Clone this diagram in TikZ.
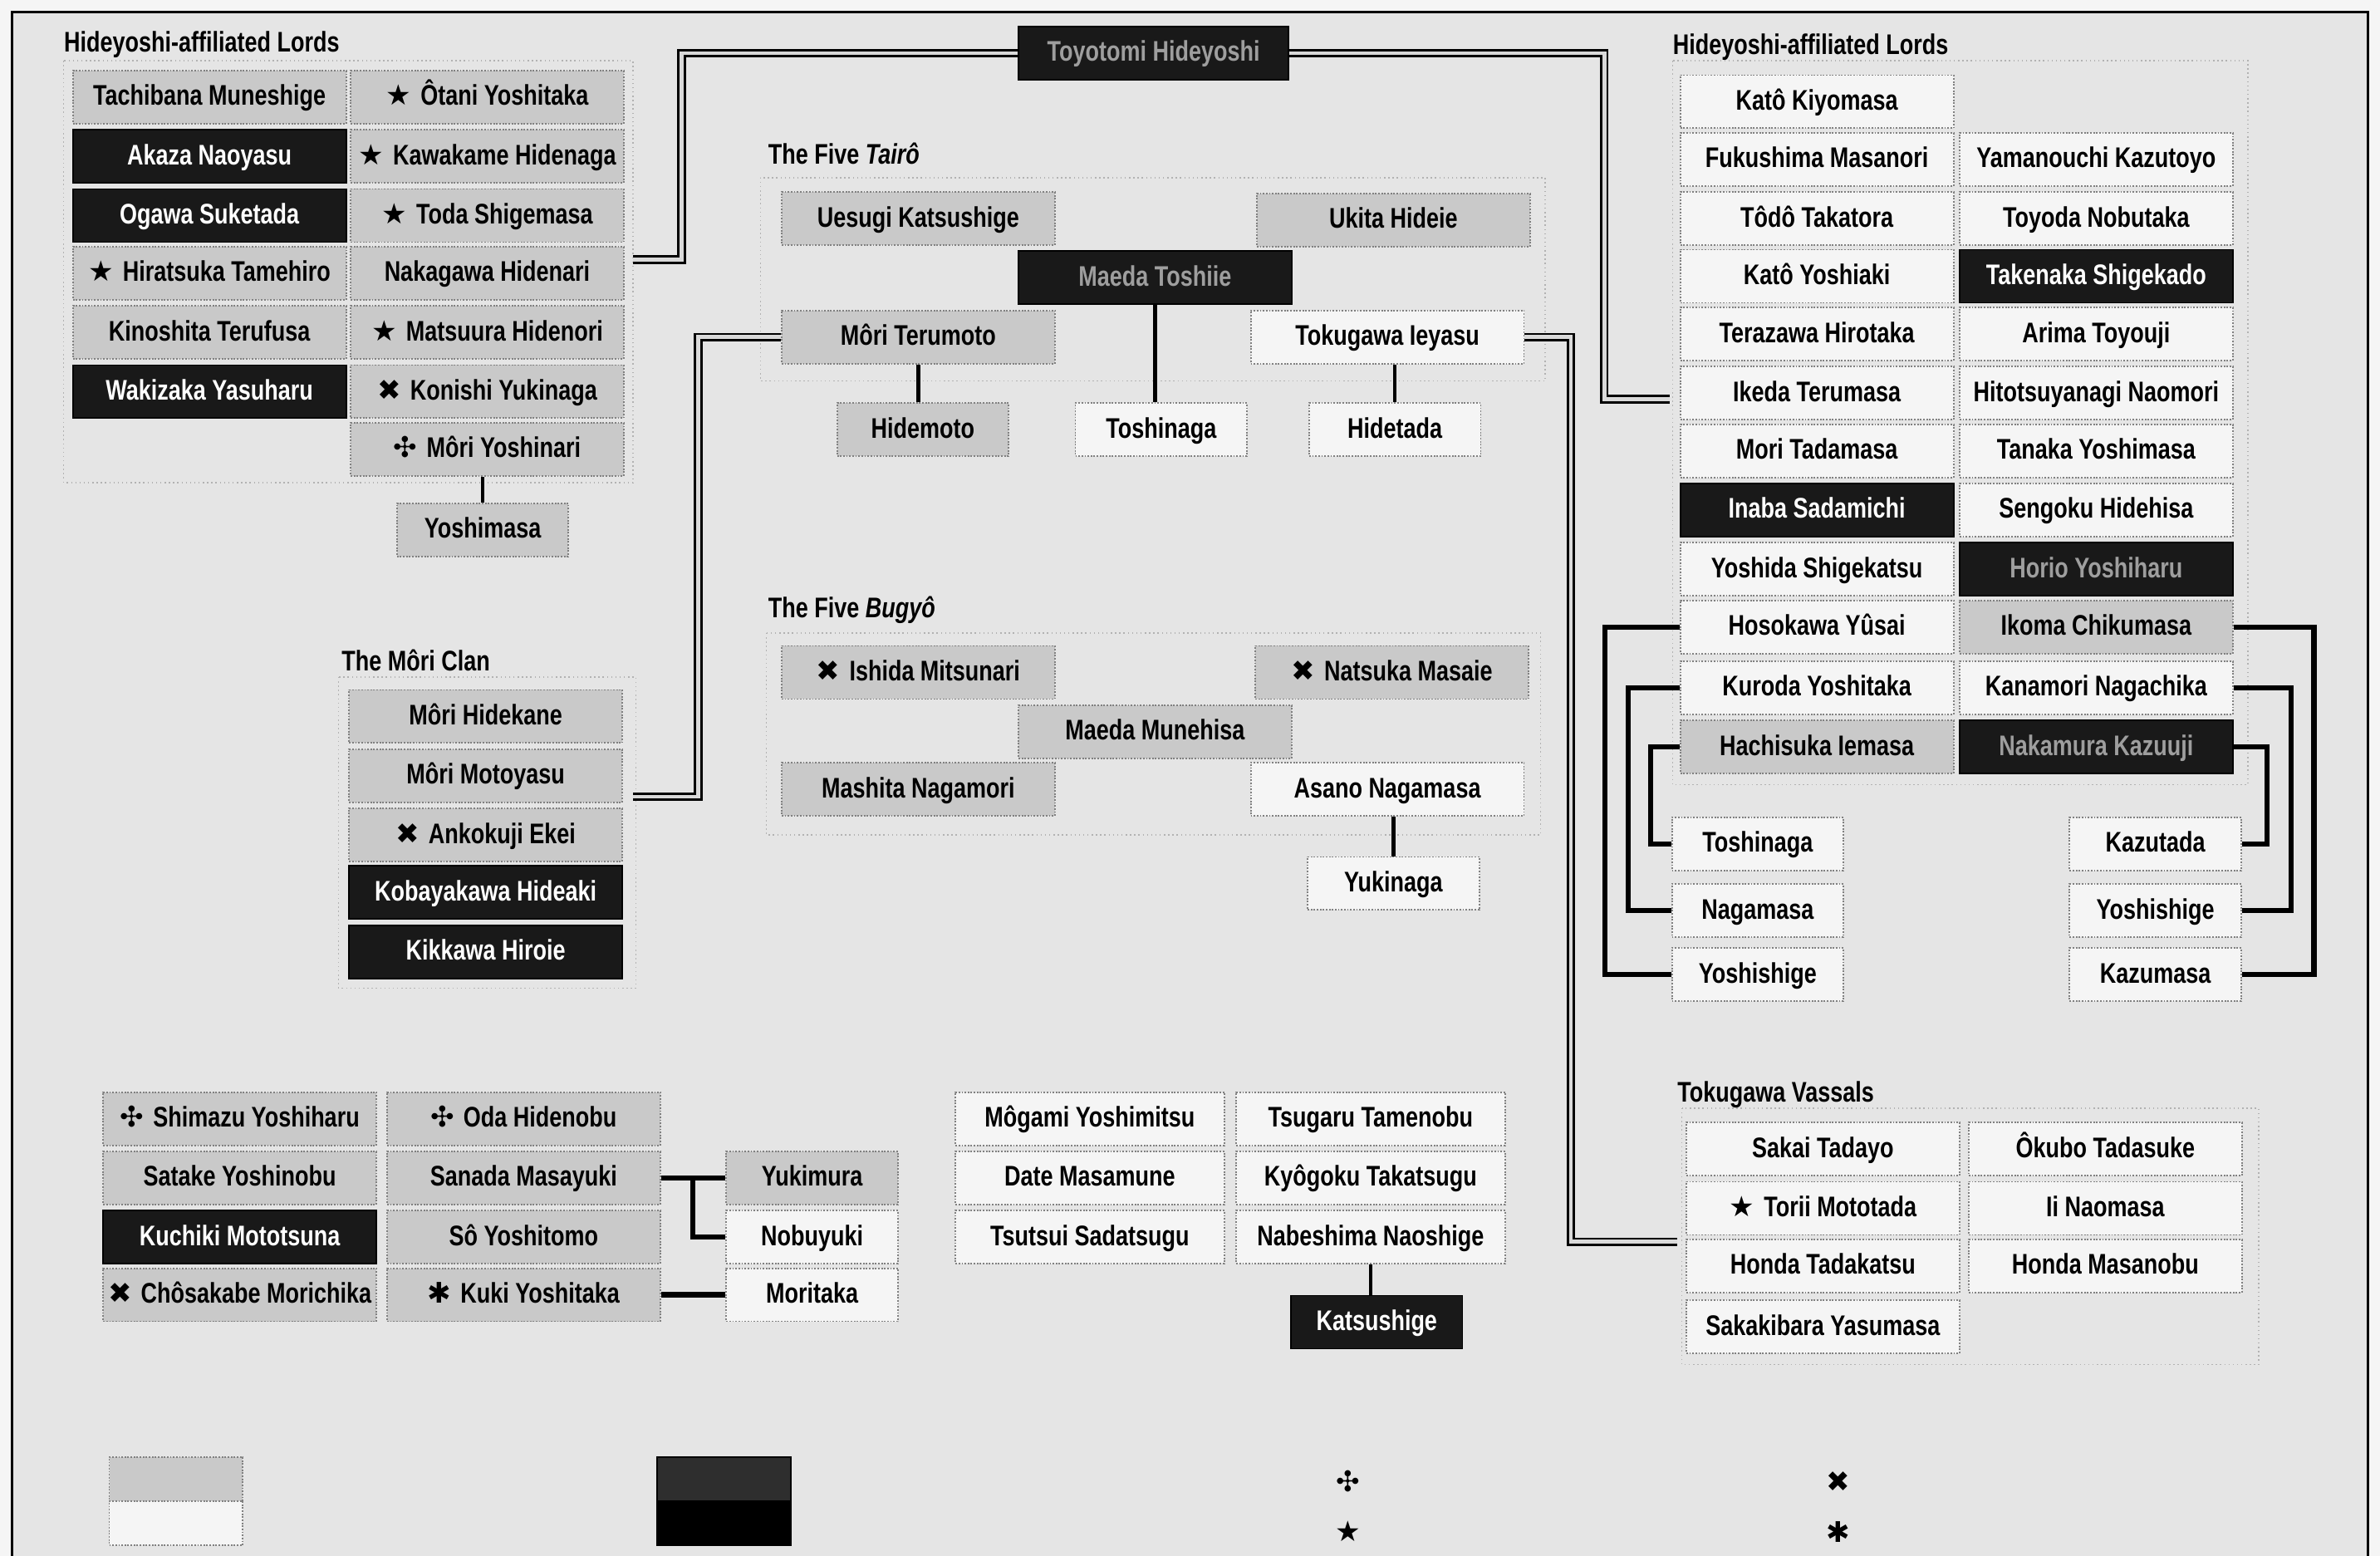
\documentclass[tikz,border=0pt]{standalone}
\usepackage{fontspec}
\setmainfont{Liberation Sans}[FakeStretch=0.85]
\newfontfamily\namefont{Liberation Sans}[FakeStretch=0.79]
\newfontfamily\symfont{DejaVu Sans}
\newcommand{\kamon}[1]{{\symfont\mdseries #1}\hspace{6pt}}

\begin{document}
\begin{tikzpicture}[
  x=1pt, y=-1pt,
  every node/.style={font=\namefont\bfseries\fontsize{18.7}{20}\selectfont},
  lord/.style={draw=black!50, densely dotted, line width=1pt, minimum width=180pt,
    minimum height=35pt, inner sep=0pt, text height=13pt, text depth=2pt},
  grey/.style={lord, fill=black!21},
  pale/.style={lord, fill=black!4},
  dark/.style={lord, draw=black, solid, fill=black!90, text=white},
  dim/.style={dark, text=black!38},
  narrow/.style={minimum width=113pt},
  title/.style={anchor=base west, inner sep=0pt},
  frame/.style={draw=black!30, dotted, line width=0.8pt},
  dbl/.style={line width=1.6pt, double=black!15, double distance=2.4pt},
  link/.style={line width=3.4pt},
  stem/.style={line width=2.4pt}
  ]
	\useasboundingbox (0,0) rectangle (1568,1025);
	\fill[black!4] (0,0) rectangle (1568,1025);
	\fill[black!10] (8,8) rectangle (1560,1025);
	\draw[line width=1.3pt] (8,1025) -- (8,8) -- (1560,8) -- (1560,1025);

	\draw[frame] (42,40) rectangle (417,318);
	\draw[frame] (1102,40) rectangle (1481,517);
	\draw[frame] (501,117) rectangle (1018,251);
	\draw[frame] (505,417) rectangle (1015,550);
	\draw[frame] (223,446) rectangle (419,651);
	\draw[frame] (1108,730) rectangle (1488,899);

	\coordinate (lordsL) at (417,171);
	\coordinate (bendA) at (449,171);
	\coordinate (lordsR) at (1100,263);
	\coordinate (bendB) at (1057,263);
	\coordinate (moriclan) at (417,525);
	\coordinate (bendC) at (460,525);
	\coordinate (vassals) at (1105,818);
	\coordinate (bendD) at (1035,818);

	\node[title] (lordsLtitle) at (42,34) {Hideyoshi-affiliated Lords};
	\node[title] (lordsRtitle) at (1102,36) {Hideyoshi-affiliated Lords};
	\node[title] (tairotitle) at (506,108) {The Five \textit{Tairô}};
	\node[title] (bugyotitle) at (506,407) {The Five \textit{Bugyô}};
	\node[title] (morititle) at (225,442) {The Môri Clan};
	\node[title] (vassaltitle) at (1105,726) {Tokugawa Vassals};

	\node[grey] (tachibana) at (138,64) {Tachibana Muneshige};
	\node[dark] (akaza) at (138,103) {Akaza Naoyasu};
	\node[dark] (ogawa) at (138,142) {Ogawa Suketada};
	\node[grey] (hiratsuka) at (138,180) {\kamon{★}Hiratsuka Tamehiro};
	\node[grey] (kinoshita) at (138,219) {Kinoshita Terufusa};
	\node[dark] (wakizaka) at (138,258) {Wakizaka Yasuharu};
	\node[grey] (otani) at (321,64) {\kamon{★}Ôtani Yoshitaka};
	\node[grey] (kawakame) at (321,103) {\kamon{★}Kawakame Hidenaga};
	\node[grey] (toda) at (321,142) {\kamon{★}Toda Shigemasa};
	\node[grey] (nakagawa) at (321,180) {Nakagawa Hidenari};
	\node[grey] (matsuura) at (321,219) {\kamon{★}Matsuura Hidenori};
	\node[grey] (konishi) at (321,258) {\kamon{✖}Konishi Yukinaga};
	\node[grey] (yoshinari) at (321,296) {\kamon{✣}Môri Yoshinari};
	\node[grey, narrow] (yoshimasa) at (318,349) {Yoshimasa};

	\node[dim, minimum width=178pt] (toyotomi) at (760,35) {Toyotomi Hideyoshi};
	\node[grey] (uesugi) at (605,144) {Uesugi Katsushige};
	\node[grey] (ukita) at (918,145) {Ukita Hideie};
	\node[dim] (toshiie) at (761,183) {Maeda Toshiie};
	\node[grey] (terumoto) at (605,222) {Môri Terumoto};
	\node[pale] (ieyasu) at (914,222) {Tokugawa Ieyasu};
	\node[grey, narrow] (hidemoto) at (608,283) {Hidemoto};
	\node[pale, narrow] (toshinagaT) at (765,283) {Toshinaga};
	\node[pale, narrow] (hidetada) at (919,283) {Hidetada};

	\node[grey] (ishida) at (605,443) {\kamon{✖}Ishida Mitsunari};
	\node[grey] (natsuka) at (917,443) {\kamon{✖}Natsuka Masaie};
	\node[grey] (munehisa) at (761,482) {Maeda Munehisa};
	\node[grey] (mashita) at (605,520) {Mashita Nagamori};
	\node[pale] (asano) at (914,520) {Asano Nagamasa};
	\node[pale, narrow] (yukinaga) at (918,582) {Yukinaga};

	\node[grey] (hidekane) at (320,472) {Môri Hidekane};
	\node[grey] (motoyasu) at (320,511) {Môri Motoyasu};
	\node[grey] (ankokuji) at (320,550) {\kamon{✖}Ankokuji Ekei};
	\node[dark] (kobayakawa) at (320,588) {Kobayakawa Hideaki};
	\node[dark] (kikkawa) at (320,627) {Kikkawa Hiroie};

	\node[pale] (kiyomasa) at (1197,67) {Katô Kiyomasa};
	\node[pale] (fukushima) at (1197,105) {Fukushima Masanori};
	\node[pale] (todo) at (1197,144) {Tôdô Takatora};
	\node[pale] (yoshiaki) at (1197,182) {Katô Yoshiaki};
	\node[pale] (terazawa) at (1197,220) {Terazawa Hirotaka};
	\node[pale] (ikeda) at (1197,259) {Ikeda Terumasa};
	\node[pale] (tadamasa) at (1197,297) {Mori Tadamasa};
	\node[dark] (inaba) at (1197,336) {Inaba Sadamichi};
	\node[pale] (yoshida) at (1197,375) {Yoshida Shigekatsu};
	\node[pale] (hosokawa) at (1197,413) {Hosokawa Yûsai};
	\node[pale] (kuroda) at (1197,453) {Kuroda Yoshitaka};
	\node[grey] (hachisuka) at (1197,492) {Hachisuka Iemasa};
	\node[pale] (yamanouchi) at (1381,105) {Yamanouchi Kazutoyo};
	\node[pale] (toyoda) at (1381,144) {Toyoda Nobutaka};
	\node[dark] (takenaka) at (1381,182) {Takenaka Shigekado};
	\node[pale] (arima) at (1381,220) {Arima Toyouji};
	\node[pale] (hitotsuyanagi) at (1381,259) {Hitotsuyanagi Naomori};
	\node[pale] (tanaka) at (1381,297) {Tanaka Yoshimasa};
	\node[pale] (sengoku) at (1381,336) {Sengoku Hidehisa};
	\node[dim] (horio) at (1381,375) {Horio Yoshiharu};
	\node[grey] (ikoma) at (1381,413) {Ikoma Chikumasa};
	\node[pale] (kanamori) at (1381,453) {Kanamori Nagachika};
	\node[dim] (nakamura) at (1381,492) {Nakamura Kazuuji};

	\node[pale, narrow] (toshinagaR) at (1158,556) {Toshinaga};
	\node[pale, narrow] (nagamasa) at (1158,600) {Nagamasa};
	\node[pale, narrow] (yoshishigeL) at (1158,642) {Yoshishige};
	\node[pale, narrow] (kazutada) at (1420,556) {Kazutada};
	\node[pale, narrow] (yoshishigeR) at (1420,600) {Yoshishige};
	\node[pale, narrow] (kazumasa) at (1420,642) {Kazumasa};

	\node[grey] (shimazu) at (158,737) {\kamon{✣}Shimazu Yoshiharu};
	\node[grey] (satake) at (158,776) {Satake Yoshinobu};
	\node[dark] (kuchiki) at (158,815) {Kuchiki Mototsuna};
	\node[grey] (chosakabe) at (158,853) {\kamon{✖}Chôsakabe Morichika};
	\node[grey] (oda) at (345,737) {\kamon{✣}Oda Hidenobu};
	\node[grey] (sanada) at (345,776) {Sanada Masayuki};
	\node[grey] (so) at (345,815) {Sô Yoshitomo};
	\node[grey] (kuki) at (345,853) {\kamon{✱}Kuki Yoshitaka};
	\node[grey, narrow] (yukimura) at (535,776) {Yukimura};
	\node[pale, narrow] (nobuyuki) at (535,815) {Nobuyuki};
	\node[pale, narrow] (moritaka) at (535,853) {Moritaka};

	\node[pale, minimum width=177pt] (mogami) at (718,737) {Môgami Yoshimitsu};
	\node[pale, minimum width=177pt] (date) at (718,776) {Date Masamune};
	\node[pale, minimum width=177pt] (tsutsui) at (718,815) {Tsutsui Sadatsugu};
	\node[pale, minimum width=177pt] (tsugaru) at (903,737) {Tsugaru Tamenobu};
	\node[pale, minimum width=177pt] (kyogoku) at (903,776) {Kyôgoku Takatsugu};
	\node[pale, minimum width=177pt] (nabeshima) at (903,815) {Nabeshima Naoshige};
	\node[dark, narrow] (katsushige) at (907,871) {Katsushige};

	\node[pale] (sakai) at (1201,757) {Sakai Tadayo};
	\node[pale] (torii) at (1201,796) {\kamon{★}Torii Mototada};
	\node[pale] (tadakatsu) at (1201,834) {Honda Tadakatsu};
	\node[pale] (sakakibara) at (1201,874) {Sakakibara Yasumasa};
	\node[pale] (okubo) at (1387,757) {Ôkubo Tadasuke};
	\node[pale] (ii) at (1387,796) {Ii Naomasa};
	\node[pale] (masanobu) at (1387,834) {Honda Masanobu};

	\draw[dbl] (toyotomi.west) -| (bendA) -- (lordsL);
	\draw[dbl] (toyotomi.east) -| (bendB) -- (lordsR);
	\draw[dbl] (terumoto.west) -| (bendC) -- (moriclan);
	\draw[dbl] (ieyasu.east) -| (bendD) -- (vassals);

	\draw[stem] (yoshimasa.north) -- (yoshimasa.north |- yoshinari.south);
	\draw[stem] (terumoto.south) -- (terumoto.south |- hidemoto.north);
	\draw[stem] (toshiie.south) -- (toshiie.south |- toshinagaT.north);
	\draw[stem] (hidetada.north) -- (hidetada.north |- ieyasu.south);
	\draw[stem] (yukinaga.north) -- (yukinaga.north |- asano.south);
	\draw[stem] (nabeshima.south) -- (nabeshima.south |- katsushige.north);

	\draw[link] (hosokawa.west) -- ++(-49,0) |- (yoshishigeL.west);
	\draw[link] (kuroda.west) -- ++(-34,0) |- (nagamasa.west);
	\draw[link] (hachisuka.west) -- ++(-19,0) |- (toshinagaR.west);
	\draw[link] (ikoma.east) -- ++(53,0) |- (kazumasa.east);
	\draw[link] (kanamori.east) -- ++(38,0) |- (yoshishigeR.east);
	\draw[link] (nakamura.east) -- ++(22,0) |- (kazutada.east);

	\draw[link] (sanada.east) -- (yukimura.west);
	\draw[link] (sanada.east) -- ++(21,0) |- (nobuyuki.west);
	\draw[link] (kuki.east) -- (moritaka.west);

	\node[grey, minimum width=88pt, minimum height=29pt] (keygrey) at (116,974.5) {};
	\node[pale, minimum width=88pt, minimum height=29pt] (keypale) at (116,1003.5) {};
	\node[dark, fill=black!82, minimum width=88pt, minimum height=29pt] (keydim) at (477,974.5) {};
	\node[dark, fill=black, minimum width=88pt, minimum height=29pt] (keydark) at (477,1003.5) {};
	\node (keysplit) at (888,976) {\symfont ✣};
	\node (keystar) at (888,1009) {\symfont ★};
	\node (keycross) at (1211,976) {\symfont ✖};
	\node (keyast) at (1211,1009) {\symfont ✱};

\end{tikzpicture}
\end{document}
